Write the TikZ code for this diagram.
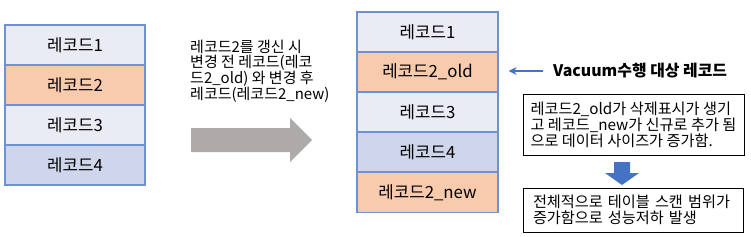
\documentclass[tikz,border=0pt]{standalone}
\usepackage{fontspec}
\setmainfont{Noto Sans CJK KR}
\usetikzlibrary{positioning,arrows.meta}

\definecolor{recline}{RGB}{110,145,212}
\definecolor{recpale}{RGB}{233,235,245}
\definecolor{recorange}{RGB}{248,203,173}
\definecolor{recblue}{RGB}{207,213,234}
\definecolor{arrowgray}{RGB}{174,170,170}
\definecolor{arrowblue}{RGB}{68,114,196}

\begin{document}
\begin{tikzpicture}[
    x=1pt, y=-1pt,
    record/.style={draw=recline, line width=1.2pt, minimum height=40pt, inner sep=0pt, font=\fontsize{16.8}{18}\selectfont},
    note/.style={draw=black, line width=0.9pt, inner sep=0pt, align=left, font=\fontsize{15.2}{16}\selectfont},
    pointer/.style={draw=arrowblue, line width=1.8pt, -{Stealth[length=8pt,width=8pt]}}
]
    \useasboundingbox (0,0) rectangle (751,236);

    % Table before the update
    \node[record, minimum width=140pt, fill=recpale]   (a1) at (75,45)  {레코드1};
    \node[record, minimum width=140pt, fill=recorange] (a2) at (75,85)  {레코드2};
    \node[record, minimum width=140pt, fill=recpale]   (a3) at (75,125) {레코드3};
    \node[record, minimum width=140pt, fill=recblue]   (a4) at (75,165) {레코드4};

    % Explanation of the update
    \node[anchor=west, inner sep=0pt, align=left, font=\fontsize{15}{14.5}\selectfont] (upd) at (190,71.5)
        {레코드2를 갱신 시\\변경 전 레코드(레코\\드2\_old) 와 변경 후\\레코드(레코드2\_new)};

    % Gray block arrow
    \fill[arrowgray] (191,128) -- (290,128) -- (290,118) -- (312,140) -- (290,162) -- (290,152) -- (191,152) -- cycle;

    % Table after the update
    \node[record, minimum width=141pt, fill=recpale]   (b1) at (427.5,32)  {레코드1};
    \node[record, minimum width=141pt, fill=recorange] (old) at (427.5,72) {레코드2\_old};
    \node[record, minimum width=141pt, fill=recpale]   (b3) at (427.5,112) {레코드3};
    \node[record, minimum width=141pt, fill=recblue]   (b4) at (427.5,152) {레코드4};
    \node[record, minimum width=141pt, fill=recorange] (new) at (427.5,192.5) {레코드2\_new};

    % Vacuum target
    \node[anchor=west, inner sep=0pt, font=\fontsize{15.9}{17}\selectfont\bfseries] (vac) at (553,71) {Vacuum수행 대상 레코드};
    \draw[pointer] ([xshift=-10pt]vac.west) -- ([xshift=10pt]old.east |- vac.west);

    % Notes on the right
    \node[note, minimum width=221pt, minimum height=61pt] (cause) at (633.5,124.5)
        {레코드2\_old가 삭제표시가 생기\\고 레코드\_new가 신규로 추가 됨\\으로 데이터 사이즈가 증가함.};
    \node[note, minimum width=220pt, minimum height=44pt, inner xsep=10pt, text width=200pt] (effect) at (633,210)
        {전체적으로 테이블 스캔 범위가\\증가함으로 성능저하 발생};

    % Blue block arrow between the notes
    \fill[arrowblue] (614,162) -- (630,162) -- (630,173) -- (639,173) -- (622,185) -- (605,173) -- (614,173) -- cycle;
\end{tikzpicture}
\end{document}
